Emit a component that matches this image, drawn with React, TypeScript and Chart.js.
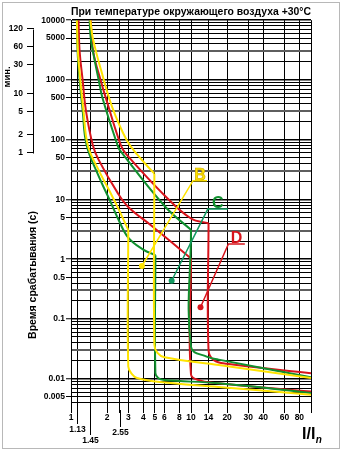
import React, { useEffect, useRef } from 'react';
import { Chart, registerables } from 'chart.js';

Chart.register(...registerables);

const FONT = '"Liberation Sans", Arial, Helvetica, sans-serif';

const TITLE = 'При температуре окружающего воздуха +30°C';
const Y_TITLE = 'Время срабатывания (с)';
const MIN_TITLE = 'мин.';
const X_TITLE = 'I/I';
const X_TITLE_SUB = 'n';

const X_MIN = 1;
const X_MAX = 100;
const Y_MIN = 0.003;
const Y_MAX = 10000;
const SECONDS_PER_MINUTE = 60;

const X_GRID = [1, 1.13, 1.45, 2, 2.55, 3, 4, 5, 6, 8, 10, 14, 20, 30, 40, 60, 80, 100];
const X_LABELS = [1, 2, 3, 4, 5, 6, 8, 10, 14, 20, 30, 40, 60, 80];
const X_SUB_LABELS = [1.13, 1.45, 2.55];
const Y_LABELS = [10000, 5000, 1000, 500, 100, 50, 10, 5, 1, 0.5, 0.1, 0.01, 0.005];
const MINUTE_LABELS = [120, 60, 30, 10, 5, 2, 1];

// Characteristic curves: [I/In, time in seconds]
const B_LOW_THERMAL = [[1.12, 10000], [1.14, 3150], [1.195, 1000], [1.27, 313], [1.38, 81], [1.7, 31], [2.09, 14], [2.44, 7.5], [3, 3.1]];
const B_LOW_INSTANT = [[3, 3.1], [3, 0.016], [3.22, 0.012], [3.55, 0.0103], [5.5, 0.0088], [17, 0.0073], [100, 0.0054]];
const B_HIGH_THERMAL = [[1.45, 10000], [1.52, 5000], [1.78, 1460], [2.2, 355], [2.9, 100], [3.6, 55], [4.95, 27]];
const B_HIGH_INSTANT = [[4.95, 27], [4.95, 0.037], [5.25, 0.027], [6, 0.0229], [17, 0.017], [100, 0.0103]];

const C_LOW_THERMAL = [[1.12, 10000], [1.135, 3000], [1.18, 1000], [1.25, 313], [1.35, 81], [1.7, 24.6], [2.09, 10], [2.44, 5], [3, 2.3], [4, 1.45], [5.05, 1.17]];
const C_LOW_INSTANT = [[5.05, 1.17], [5.05, 0.0125], [5.35, 0.0102], [6, 0.0095], [17, 0.0084], [100, 0.0058]];
const C_HIGH_THERMAL = [[1.43, 10000], [1.46, 5000], [1.55, 2500], [1.7, 1000], [1.83, 500], [2.44, 81], [2.55, 67], [6.1, 7.55], [10, 3.1]];
const C_HIGH_INSTANT = [[10, 3.1], [10, 0.034], [13.5, 0.0234], [17, 0.0209], [100, 0.0106]];

const D_LOW_THERMAL = [[1.155, 10000], [1.18, 3000], [1.25, 1000], [1.33, 313], [1.52, 81], [1.7, 46], [2.44, 13], [3, 7.5], [4.8, 3.5], [10, 1.03]];
const D_LOW_INSTANT = [[10, 1.03], [10, 0.0118], [12, 0.0093], [15, 0.0086], [100, 0.0061]];
const D_HIGH_THERMAL = [[1.46, 10000], [1.53, 3000], [1.78, 930], [1.95, 500], [2.6, 81], [2.87, 58], [6.2, 11], [10, 4.8], [14, 4]];
const D_HIGH_INSTANT = [[14, 4], [14, 0.03], [15.5, 0.0205], [20, 0.0178], [100, 0.0124]];

// Callouts: dot, start of underline, end of underline
const B_CALLOUT = [[3.9, 0.77], [10.4, 20.6], [13.6, 20.6]];
const C_CALLOUT = [[6.9, 0.436], [13.8, 6.9], [20.3, 6.9]];
const D_CALLOUT = [[12, 0.157], [20.5, 1.8], [28.1, 1.8]];
const CALLOUT_TEXT = ['B', 'C', 'D'];

const YELLOW = '#ffe400';
const GREEN = '#10902e';
const TEAL = '#139a62';
const RED = '#d8141c';

const Y_GRID: number[] = [];
for (let e = -3; e <= 4; e++) {
  for (let k = 1; k <= 9; k++) {
    const v = Number((k * Math.pow(10, e)).toPrecision(3));
    if (v >= 0.004 && v <= Y_MAX) Y_GRID.push(v);
  }
}

const near = (a: number, b: number) => Math.abs(a - b) / b < 1e-6;
const mantissa = (v: number) => Math.round(v / Math.pow(10, Math.floor(Math.log10(v) + 1e-9)));

function toPoints(p: number[][]) {
  return p.map(([x, y]) => ({ x, y }));
}

function curve(p: number[][], color: string) {
  return {
    data: toPoints(p),
    borderColor: color,
    backgroundColor: color,
    borderWidth: 2,
    pointRadius: 0,
    tension: 0.4,
    fill: false,
  };
}

function callout(p: number[][], color: string) {
  return {
    data: toPoints(p),
    borderColor: color,
    backgroundColor: color,
    borderWidth: 1.5,
    pointRadius: [3, 0, 0],
    pointBackgroundColor: color,
    pointBorderWidth: 0,
    tension: 0,
    fill: false,
  };
}

const decorPlugin = {
  id: 'decor',
  beforeDraw(chart: any) {
    const ctx = chart.ctx;
    ctx.save();
    ctx.fillStyle = '#ffffff';
    ctx.fillRect(0, 0, chart.width, chart.height);
    ctx.strokeStyle = '#b8b8b8';
    ctx.lineWidth = 1;
    ctx.strokeRect(2.5, 2.5, chart.width - 5, chart.height - 6);
    ctx.restore();
  },
  afterDraw(chart: any) {
    const { ctx, chartArea, scales } = chart;
    const xs = scales.x;
    const ys = scales.y;
    const ym = scales.yMin;
    ctx.save();
    ctx.strokeStyle = '#000';
    ctx.fillStyle = '#000';
    ctx.lineWidth = 1;

    // long ticks for 1.13, 1.45, 2.55
    const drops = [14, 25, 17];
    ctx.font = `bold 8.5px ${FONT}`;
    ctx.textAlign = 'center';
    ctx.textBaseline = 'middle';
    X_SUB_LABELS.forEach((v, i) => {
      const px = Math.round(xs.getPixelForValue(v)) + 0.5;
      const end = chartArea.bottom + drops[i];
      ctx.beginPath();
      ctx.moveTo(px, chartArea.bottom);
      ctx.lineTo(px, end);
      ctx.stroke();
      ctx.fillText(String(v), px, end + 6);
    });

    // minutes bracket
    const mx = Math.round(ym.right) - 0.5;
    ctx.beginPath();
    ctx.moveTo(mx, Math.round(ym.getPixelForValue(MINUTE_LABELS[0])) + 0.5);
    ctx.lineTo(mx, Math.round(ym.getPixelForValue(MINUTE_LABELS[MINUTE_LABELS.length - 1])) + 0.5);
    ctx.stroke();

    // rotated titles
    ctx.save();
    ctx.translate(9.5, 77);
    ctx.rotate(-Math.PI / 2);
    ctx.font = `bold 9.5px ${FONT}`;
    ctx.textAlign = 'center';
    ctx.textBaseline = 'alphabetic';
    ctx.fillText(MIN_TITLE, 0, 0);
    ctx.restore();

    ctx.save();
    ctx.translate(36, 275);
    ctx.rotate(-Math.PI / 2);
    ctx.font = `bold 10.5px ${FONT}`;
    ctx.textAlign = 'center';
    ctx.textBaseline = 'alphabetic';
    ctx.fillText(Y_TITLE, 0, 0);
    ctx.restore();

    // I/In
    ctx.textAlign = 'left';
    ctx.textBaseline = 'alphabetic';
    ctx.font = `bold 16px ${FONT}`;
    ctx.fillText(X_TITLE, 302, 439);
    const w = ctx.measureText(X_TITLE).width;
    ctx.font = `italic bold 10px ${FONT}`;
    ctx.fillText(X_TITLE_SUB, 302 + w + 0.5, 443);

    // callout letters
    const callouts = [B_CALLOUT, C_CALLOUT, D_CALLOUT];
    const colors = [YELLOW, GREEN, RED];
    ctx.font = `bold 16px ${FONT}`;
    ctx.textAlign = 'center';
    callouts.forEach((c, i) => {
      const x1 = xs.getPixelForValue(c[1][0]);
      const x2 = xs.getPixelForValue(c[2][0]);
      const y = ys.getPixelForValue(c[1][1]);
      ctx.fillStyle = colors[i];
      ctx.fillText(CALLOUT_TEXT[i], (x1 + x2) / 2, y - 1);
      if (i === 0) {
        ctx.strokeStyle = '#c9a800';
        ctx.lineWidth = 0.6;
        ctx.strokeText(CALLOUT_TEXT[i], (x1 + x2) / 2, y - 1);
      }
    });
    ctx.restore();
  },
};

export default function App() {
  const ref = useRef<HTMLCanvasElement>(null);
  useEffect(() => {
    const canvas = ref.current;
    if (!canvas) return;
    const tickFont = { family: FONT, size: 8.5, weight: 'bold' as const };
    const chart = new Chart(canvas, {
      type: 'line',
      data: {
        datasets: [
          callout(B_CALLOUT, YELLOW),
          callout(C_CALLOUT, TEAL),
          callout(D_CALLOUT, RED),
          curve(B_LOW_THERMAL, YELLOW),
          curve(B_LOW_INSTANT, YELLOW),
          curve(B_HIGH_THERMAL, YELLOW),
          curve(B_HIGH_INSTANT, YELLOW),
          curve(C_LOW_THERMAL, GREEN),
          curve(C_LOW_INSTANT, GREEN),
          curve(C_HIGH_THERMAL, GREEN),
          curve(C_HIGH_INSTANT, GREEN),
          curve(D_LOW_THERMAL, RED),
          curve(D_LOW_INSTANT, RED),
          curve(D_HIGH_THERMAL, RED),
          curve(D_HIGH_INSTANT, RED),
        ] as any,
      },
      options: {
        animation: false,
        responsive: false,
        maintainAspectRatio: false,
        devicePixelRatio: 1,
        layout: { padding: { left: 0, right: 31, top: 0, bottom: 0 } },
        plugins: {
          legend: { display: false },
          tooltip: { enabled: false },
          title: {
            display: true,
            text: TITLE,
            fullSize: false,
            color: '#000',
            font: { family: FONT, size: 11.3, weight: 'bold' },
            padding: { top: 5, bottom: 1.6 },
          },
        },
        scales: {
          x: {
            type: 'logarithmic',
            position: 'bottom',
            min: X_MIN,
            max: X_MAX,
            afterBuildTicks: (s: any) => {
              s.ticks = X_GRID.map((v) => ({ value: v }));
            },
            afterFit: (s: any) => {
              s.height = 42;
            },
            border: { display: false },
            grid: { color: '#000', lineWidth: 1, tickLength: 3, drawTicks: true, tickColor: '#000' },
            ticks: {
              autoSkip: false,
              maxRotation: 0,
              minRotation: 0,
              padding: 0,
              color: '#000',
              font: tickFont,
              callback: (v: any) => (X_LABELS.some((l) => near(Number(v), l)) ? String(Number(v)) : ''),
            },
          },
          y: {
            type: 'logarithmic',
            position: 'left',
            weight: 0,
            min: Y_MIN,
            max: Y_MAX,
            afterBuildTicks: (s: any) => {
              s.ticks = Y_GRID.map((v) => ({ value: v }));
            },
            afterFit: (s: any) => {
              s.width = 37;
            },
            border: { display: true, color: '#000', width: 1 },
            grid: {
              tickLength: 5,
              color: (c: any) => (c.tick && mantissa(c.tick.value) === 3 ? '#5e5e5e' : '#000'),
              lineWidth: (c: any) => {
                if (!c.tick) return 1;
                const m = mantissa(c.tick.value);
                return m === 1 ? 1.5 : m === 3 ? 2 : 1;
              },
              tickColor: (c: any) =>
                c.tick && Y_LABELS.some((l) => near(c.tick.value, l)) ? '#000' : 'rgba(0,0,0,0)',
              tickWidth: 1,
            },
            ticks: {
              autoSkip: false,
              padding: 1,
              color: '#000',
              font: tickFont,
              callback: (v: any) => {
                const l = Y_LABELS.find((y) => near(Number(v), y));
                return l === undefined ? '' : String(l);
              },
            },
          },
          yMin: {
            type: 'logarithmic',
            position: 'left',
            weight: 1,
            min: Y_MIN / SECONDS_PER_MINUTE,
            max: Y_MAX / SECONDS_PER_MINUTE,
            afterBuildTicks: (s: any) => {
              s.ticks = MINUTE_LABELS.map((v) => ({ value: v }));
            },
            afterFit: (s: any) => {
              s.width = 34;
            },
            border: { display: false },
            grid: { drawOnChartArea: false, drawTicks: true, tickLength: 7, color: '#000', tickColor: '#000', lineWidth: 1 },
            ticks: {
              autoSkip: false,
              padding: 4,
              color: '#000',
              font: tickFont,
              callback: (v: any) => String(Number(v)),
            },
          },
        },
      } as any,
      plugins: [decorPlugin],
    });
    return () => chart.destroy();
  }, []);
  return (
    <div style={{ position: 'absolute', left: 0, top: 0, width: 342, height: 452, background: '#fff' }}>
      <canvas ref={ref} width={342} height={452} style={{ display: 'block', width: 342, height: 452 }} />
    </div>
  );
}
